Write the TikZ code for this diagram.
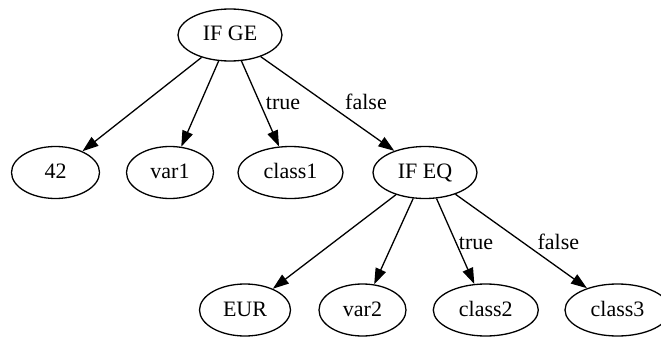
\documentclass[tikz,border=0pt]{standalone}
\usepackage{fontspec}
\setmainfont{Liberation Serif}
\usetikzlibrary{shapes.geometric,arrows.meta}
\begin{document}
\begin{tikzpicture}[x=1pt,y=-1pt,
  every node/.style={font=\fontsize{22}{26}\selectfont},
  vertex/.style={ellipse,draw,line width=1.3pt,inner sep=0pt,
    minimum height=52pt,text height=12pt,text depth=0pt},
  edge/.style={line width=1.3pt,-{Triangle[length=16pt,width=11pt]}},
  elabel/.style={anchor=base,inner sep=0pt}]
\useasboundingbox (0,0) rectangle (661,345);

% top decision
\node[vertex,minimum width=104pt] (ifge) at (230,35) {IF GE};

% second rank
\node[vertex,minimum width=88pt]  (n42)    at (55.5,172.5)  {42};
\node[vertex,minimum width=87pt]  (var1)   at (170,172.5)   {var1};
\node[vertex,minimum width=105pt] (class1) at (290.5,172.5) {class1};
\node[vertex,minimum width=104pt] (ifeq)   at (425,172.5)   {IF EQ};

% third rank
\node[vertex,minimum width=91pt]  (eur)    at (245,310)   {EUR};
\node[vertex,minimum width=87pt]  (var2)   at (362.5,310) {var2};
\node[vertex,minimum width=105pt] (class2) at (485.8,310) {class2};
\node[vertex,minimum width=105pt] (class3) at (617.5,310) {class3};

% edges
\draw[edge] (ifge) -- (n42);
\draw[edge] (ifge) -- (var1);
\draw[edge] (ifge) -- (class1);
\draw[edge] (ifge) -- (ifeq);
\draw[edge] (ifeq) -- (eur);
\draw[edge] (ifeq) -- (var2);
\draw[edge] (ifeq) -- (class2);
\draw[edge] (ifeq) -- (class3);

% edge labels
\node[elabel] (t1) at (283,109)   {true};
\node[elabel] (f1) at (366,109)   {false};
\node[elabel] (t2) at (476,249)   {true};
\node[elabel] (f2) at (558.3,249) {false};
\end{tikzpicture}
\end{document}
